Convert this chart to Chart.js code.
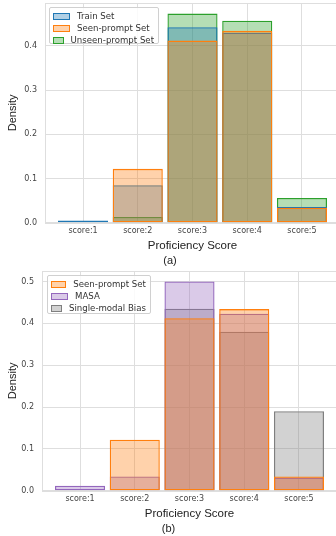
<!DOCTYPE html>
<html>
<head>
<meta charset="utf-8">
<script src="https://cdn.jsdelivr.net/npm/chart.js@4/dist/chart.umd.min.js"></script>
<style>
  html, body { margin: 0; padding: 0; background: #fff; }
  body { width: 336px; height: 536px; overflow: hidden; position: relative; }
  .panel { position: absolute; left: 0; }
  .legend { position: absolute; background: rgba(255,255,255,0.85); border: 1px solid #d0d0d0; border-radius: 2px;
            font: 8.6px "DejaVu Sans", sans-serif; color: #333; padding: 2px 4px 1px 3px; box-sizing: border-box; }
  .legend div { height: 12px; line-height: 12px; white-space: nowrap; display: flex; align-items: center; }
  .legend i { display: inline-block; width: 15px; height: 5px; margin-right: 7px; }
</style>
</head>
<body>
<div class="panel" style="top:0"><canvas id="chartA" width="340" height="268"></canvas></div>
<div class="panel" style="top:268px"><canvas id="chartB" width="337" height="268"></canvas></div>
<div id="legendA" class="legend" style="left:49px;top:7px;width:110px;height:37px"></div>
<div id="legendB" class="legend" style="left:47px;top:275px;width:104px;height:39px"></div>
<script>
"use strict";
// Density of proficiency scores, two stacked panels (a) and (b), overlapping histogram bars.
const categories = ["score:1", "score:2", "score:3", "score:4", "score:5"];
const xPos = [0, 1, 2, 3, 4];

// panel (a)
const trainSet = [0.005, 0.085, 0.442, 0.430, 0.036];
const seenSet = [0.000, 0.122, 0.412, 0.434, 0.034];
const unseenSet = [0.000, 0.013, 0.473, 0.457, 0.056];
// panel (b)
const masaSet = [0.012, 0.034, 0.500, 0.423, 0.031];
const singleModalSet = [0.000, 0.000, 0.435, 0.380, 0.190];

const yTicksA = [0, 0.1, 0.2, 0.3, 0.4];
const yTicksB = [0, 0.1, 0.2, 0.3, 0.4, 0.5];

const C = { blue: "31,119,180", orange: "255,127,14", green: "44,160,44", purple: "148,103,189", gray: "127,127,127" };
const FILL_A = 0.35;

// layer 0 is painted last (on top); the orange set sits over the others
const seriesA = [
  { label: "Train Set", data: trainSet, color: C.blue, layer: 1 },
  { label: "Seen-prompt Set", data: seenSet, color: C.orange, layer: 0 },
  { label: "Unseen-prompt Set", data: unseenSet, color: C.green, layer: 2 },
];
const seriesB = [
  { label: "Seen-prompt Set", data: seenSet, color: C.orange, layer: 0 },
  { label: "MASA", data: masaSet, color: C.purple, layer: 1 },
  { label: "Single-modal Bias", data: singleModalSet, color: C.gray, layer: 2 },
];

const GRID = "#dedede";

// light grey spines round the plot area
const frame = {
  id: "frame",
  afterDatasetsDraw(chart) {
    const a = chart.chartArea, ctx = chart.ctx;
    ctx.save();
    ctx.strokeStyle = GRID; ctx.lineWidth = 1;
    ctx.strokeRect(Math.round(a.left) + 0.5, Math.round(a.top) + 0.5, Math.round(a.right - a.left), Math.round(a.bottom - a.top));
    ctx.restore();
  }
};

function buildLegend(id, series) {
  const el = document.getElementById(id);
  el.innerHTML = series.map(s =>
    `<div><i style="background:rgba(${s.color},${FILL_A});border:1px solid rgb(${s.color})"></i>${s.label}</div>`).join("");
}

function makeChart(id, series, yMax, yTicks, caption, axisWidth) {
  const datasets = series.map(s => ({
    label: s.label,
    data: xPos.map((x, k) => ({ x, y: s.data[k] })),
    backgroundColor: `rgba(${s.color},${FILL_A})`,
    borderColor: `rgb(${s.color})`,
    borderWidth: 1.3,
    borderSkipped: false,
    grouped: false,
    order: s.layer,
    barPercentage: 0.915,
    categoryPercentage: 1,
  }));
  return new Chart(document.getElementById(id), {
    type: "bar",
    data: { datasets },
    plugins: [frame],
    options: {
      responsive: false, animation: false, devicePixelRatio: 1,
      layout: { padding: { top: 3, right: 0, left: 0, bottom: 0 } },
      plugins: {
        legend: { display: false }, tooltip: { enabled: false },
        title: { display: true, position: "bottom", text: caption, color: "#222",
                 font: { family: "Liberation Sans", size: 11, weight: "normal" }, padding: { top: 0, bottom: 0 } },
      },
      scales: {
        x: {
          type: "linear", min: -0.695, max: 4.695, offset: false,
          afterBuildTicks: sc => { sc.ticks = xPos.map(v => ({ value: v })); },
          afterFit: sc => { sc.height = 32; sc.paddingLeft = 0; sc.paddingRight = 0; },
          ticks: { callback: v => categories[v], color: "#444", padding: 3, maxRotation: 0,
                   font: { family: "DejaVu Sans", size: 8 } },
          grid: { color: GRID, drawTicks: false, offset: false },
          border: { display: false },
          title: { display: true, text: "Proficiency Score", color: "#222",
                   font: { family: "Liberation Sans", size: 11.5 }, padding: { top: 4, bottom: 2 } },
        },
        y: {
          min: 0, max: yMax,
          afterBuildTicks: sc => { sc.ticks = yTicks.map(v => ({ value: v })); },
          afterFit: sc => { sc.width = axisWidth; sc.paddingTop = 0; sc.paddingBottom = 0; },
          ticks: { callback: v => v.toFixed(1), color: "#444", padding: 8,
                   font: { family: "DejaVu Sans", size: 8 } },
          grid: { color: GRID, drawTicks: false },
          border: { display: false },
          title: { display: true, text: "Density", color: "#222",
                   font: { family: "Liberation Sans", size: 11 }, padding: { top: 6, bottom: 0 } },
        },
      },
    },
  });
}

makeChart("chartA", seriesA, 0.497, yTicksA, "(a)", 45);
makeChart("chartB", seriesB, 0.525, yTicksB, "(b)", 42);
buildLegend("legendA", seriesA);
buildLegend("legendB", seriesB);
</script>
</body>
</html>
